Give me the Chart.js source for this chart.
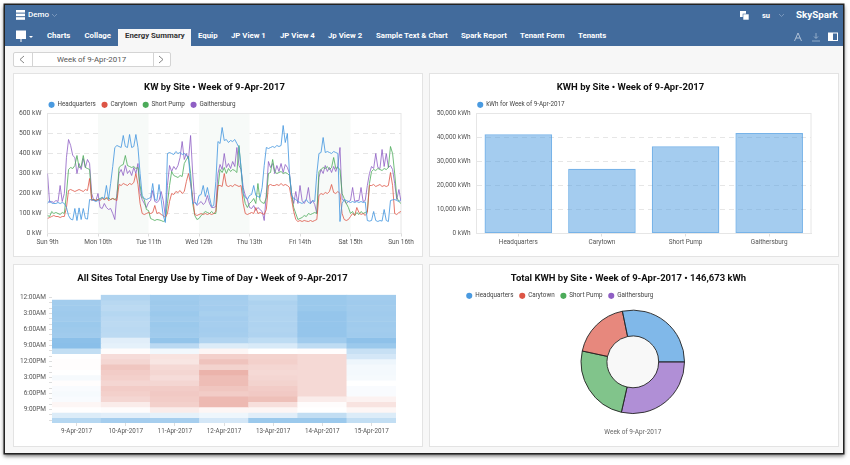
<!DOCTYPE html>
<html><head><meta charset="utf-8">
<script src="https://cdn.jsdelivr.net/npm/chart.js@4/dist/chart.umd.min.js"></script>
<style>
html,body{margin:0;padding:0;background:#fff;width:850px;height:465px;overflow:hidden;font-family:Roboto,"Liberation Sans",sans-serif}
#win{position:absolute;left:5px;top:5px;width:838px;height:448px;background:#f7f7f7;box-shadow:0 0 0 1.5px #222,0 2px 4px 1px rgba(0,0,0,.6)}
#bar{position:absolute;left:5px;top:5px;width:838px;height:41px;background:#426b9c}
.t{position:absolute;color:#fff;font:bold 7.8px Roboto,"Liberation Sans",sans-serif;white-space:nowrap;line-height:12px;top:30px}
#tab{position:absolute;left:118px;top:29px;width:73px;height:17px;background:#f7f7f7}
.panel{position:absolute;background:#fff;box-sizing:border-box;border:1px solid #e3e3e3}
canvas{position:absolute;left:0;top:0}
#sel{position:absolute;left:12.5px;top:52px;width:158px;height:15px;box-sizing:border-box;border:1px solid #d4d4d4;border-radius:2px;background:#fff;color:#555;font-size:7.9px;line-height:13px;text-align:center}
#sel i{position:absolute;top:0;width:1px;height:13px;background:#d4d4d4}
svg{position:absolute}
</style></head><body>
<div id="win"></div><div id="bar"></div><div id="tab"></div>
<svg style="left:0;top:0" width="850" height="60" fill="none" stroke="#fff">
<g fill="#fff" stroke="none"><rect x="16" y="10" width="9" height="2.6"/><rect x="16" y="13.6" width="9" height="2.6"/><rect x="16" y="17.2" width="9" height="2.6"/>
<rect x="16" y="30.5" width="10" height="8.5"/><rect x="20.5" y="39" width="1" height="3"/><path d="M29 36h4l-2 2z"/>
<rect x="740" y="11" width="6" height="6"/><rect x="743" y="14" width="6" height="6" stroke="#426b9c" stroke-width=".6"/>
<rect x="828" y="32.5" width="10" height="8.5"/></g>
<path d="M52 14l2.5 2.5 2.5-2.5M779 14l2.5 2.5 2.5-2.5" stroke="#8fa9c8" stroke-width=".7"/>
<path d="M794.5 41l3.5-8 3.500 8M796 38h4" stroke="#c6d3e3" stroke-width=".8"/>
<path d="M816 33v5M814 36.500l2 2 2-2M812 41h8" stroke="#a7bcd4" stroke-width=".8"/>
<rect x="833" y="33.500" width="4" height="6.500" fill="#426b9c" stroke="none"/>
</svg>
<div class="t" style="left:28px;top:9px;font-size:8px;font-weight:500">Demo</div>
<div class="t" style="left:762px;top:9.500px;font-size:7.500px">su</div>
<div class="t" style="left:796px;top:9px;font-size:9.800px">SkySpark</div>
<div class="t" style="left:47px">Charts</div><div class="t" style="left:84.500px">Collage</div>
<div class="t" style="left:125px;color:#333">Energy Summary</div><div class="t" style="left:198px">Equip</div>
<div class="t" style="left:231px">JP View 1</div><div class="t" style="left:280px">JP View 4</div>
<div class="t" style="left:328px">Jp View 2</div><div class="t" style="left:376px">Sample Text &amp; Chart</div>
<div class="t" style="left:461px">Spark Report</div><div class="t" style="left:520px">Tenant Form</div><div class="t" style="left:578px">Tenants</div>
<div id="sel">Week of 9-Apr-2017<i style="left:18px"></i><i style="left:139px"></i></div>
<svg style="left:0;top:0" width="200" height="70" fill="none" stroke="#777" stroke-width=".9"><path d="M24 56l-4 3.500 4 3.500M159 56l4 3.500-4 3.500"/></svg>
<div class="panel" style="left:12.500px;top:72.500px;width:410px;height:184px"><canvas id="c1" width="408" height="182"></canvas></div>
<div class="panel" style="left:428.500px;top:72.500px;width:410px;height:184px"><canvas id="c2" width="408" height="182"></canvas></div>
<div class="panel" style="left:12.500px;top:263.500px;width:410px;height:183px"><canvas id="c3" width="408" height="181"></canvas></div>
<div class="panel" style="left:428.500px;top:263.500px;width:410px;height:183px"><canvas id="c4" width="408" height="181"></canvas></div>
<script>
const weekLabel = "Week of 9-Apr-2017";
const sites = ["Headquarters","Carytown","Short Pump","Gaithersburg"];
const siteColors = ["#4a9ae0","#dd5546","#4cab5a","#8f5fc4"];
const lineColors = ["rgba(74,154,224,.85)","rgba(221,85,70,.8)","rgba(76,171,90,.8)","rgba(143,95,196,.8)"];
const dayLabels = ["Sun 9th","Mon 10th","Tue 11th","Wed 12th","Thu 13th","Fri 14th","Sat 15th","Sun 16th"];
const shadedDays = [1,3,5];
const kwHeadquarters = [150,165,152,150,150,155,150,155,150,130,90,72,68,125,65,128,70,125,75,72,170,168,165,160,
165,170,180,175,240,170,250,335,430,440,435,430,490,435,430,495,430,435,495,430,300,190,175,170,
175,180,250,170,165,245,170,90,55,400,405,400,395,410,400,405,395,400,390,380,260,150,155,145,
190,195,240,185,230,180,135,140,260,460,450,530,465,470,455,465,460,470,450,430,330,200,180,170,
190,195,240,190,185,180,230,340,430,425,430,435,430,440,435,440,540,455,500,300,190,175,170,160,
155,150,160,170,155,150,165,160,300,400,405,480,405,410,405,400,410,405,400,60,150,170,165,160,
155,160,155,160,155,160,155,158,65,62,65,110,65,60,65,62,120,65,60,165,168,170,165,160,170];
const kwCarytown = [75,80,85,90,85,85,80,85,85,130,215,220,215,210,215,220,215,210,220,215,275,165,170,165,
170,165,175,170,180,165,170,175,170,165,245,240,250,245,240,250,245,255,300,245,150,100,95,100,
105,100,105,140,100,105,95,90,80,100,160,200,195,210,205,215,200,210,260,300,250,180,95,90,
95,100,95,100,95,100,95,100,110,240,240,235,300,240,235,240,235,245,240,235,240,150,100,95,
100,105,100,130,100,105,100,95,120,240,245,240,240,245,240,250,240,245,240,230,170,110,70,60,
65,60,65,62,60,65,60,65,70,190,200,195,205,200,210,245,205,200,210,200,100,70,65,70,
85,100,90,130,105,95,100,90,105,240,240,245,235,240,245,235,240,235,240,305,240,100,95,105,110];
const kwShortPump = [90,85,110,100,105,100,95,105,100,200,320,330,325,340,390,330,335,390,330,325,320,170,170,165,
170,175,180,170,175,180,170,175,170,180,330,340,345,390,340,335,330,335,325,330,240,180,170,120,
115,75,70,65,70,68,65,60,65,150,240,310,290,285,280,290,285,350,370,385,300,150,90,70,
75,90,100,110,105,100,110,100,100,230,320,305,330,300,325,310,320,315,305,440,320,200,150,130,
150,160,175,150,250,165,155,150,180,300,305,370,310,300,305,310,300,305,300,290,200,130,100,70,
75,80,90,85,100,95,100,105,100,310,320,330,325,335,320,330,380,325,330,320,200,175,150,130,
100,110,90,105,95,110,100,105,110,250,310,320,315,325,320,315,325,320,330,435,400,300,180,160,150];
const kwGaithersburg = [300,155,160,155,165,160,240,160,200,380,470,440,390,380,300,350,320,375,330,370,350,200,165,165,
200,130,125,150,130,120,125,100,70,200,300,320,290,340,300,315,290,330,300,350,200,170,150,130,
155,165,215,160,155,165,210,165,85,240,340,310,335,320,340,380,460,370,400,370,490,300,160,140,
150,160,145,155,190,150,130,130,135,300,345,320,400,330,350,325,360,335,430,340,320,230,190,170,
130,125,140,115,130,120,110,65,200,360,330,350,300,340,310,350,305,345,330,300,200,150,210,150,
240,165,150,170,230,150,165,145,100,280,320,300,340,310,330,305,335,310,340,430,170,165,150,160,
165,230,160,165,165,230,160,165,240,300,335,325,400,330,325,420,335,400,330,340,320,250,170,220,160];
const kwSeries = [kwHeadquarters,kwCarytown,kwShortPump,kwGaithersburg];
const kwhBySite = [41400,27000,36400,41873];
const heatDays = ["9-Apr-2017","10-Apr-2017","11-Apr-2017","12-Apr-2017","13-Apr-2017","14-Apr-2017","15-Apr-2017"];
const hourLabels = ["12:00AM","1:00AM","2:00AM","3:00AM","4:00AM","5:00AM","6:00AM","7:00AM","8:00AM","9:00AM","10:00AM","11:00AM","12:00PM","1:00PM","2:00PM","3:00PM","4:00PM","5:00PM","6:00PM","7:00PM","8:00PM","9:00PM","10:00PM","11:00PM"];
const heatApr9 = [null,655,650,645,650,640,645,650,605,600,730,870,875,875,870,850,875,855,850,855,900,872,790,700];
const heatApr10 = [690,705,715,700,710,715,710,715,800,810,880,980,1000,1050,1030,1020,1000,1030,1020,1000,930,880,800,660];
const heatApr11 = [650,645,650,640,650,640,645,650,620,710,840,960,950,990,1000,980,1000,1030,1040,1030,1020,930,810,665];
const heatApr12 = [660,665,660,670,660,665,660,665,690,790,900,1020,1060,1010,1110,1080,1080,1050,1030,1090,1090,900,830,770];
const heatApr13 = [700,680,690,685,690,685,690,685,720,780,870,1010,1020,1000,990,1000,1010,1030,1040,1070,970,900,800,640];
const heatApr14 = [640,640,640,625,625,625,625,625,650,720,875,990,990,990,990,990,990,990,990,930,880,870,730,640];
const heatApr15 = [655,650,655,650,655,650,655,650,610,640,740,770,830,845,845,850,870,855,855,910,960,900,790,730];
const heatGrid = [heatApr9,heatApr10,heatApr11,heatApr12,heatApr13,heatApr14,heatApr15];
const heatMid = 870, heatRange = 300;
function heatColor(v){
  if(v===null) return "rgba(255,255,255,0)";
  const r=Math.min(1,Math.abs(v-heatMid)/heatRange), e=v<heatMid?[125,184,230]:[230,160,150];
  return "rgb("+e.map(c=>Math.round(255+(c-255)*r)).join(",")+")";
}
const fam = "Roboto, 'Liberation Sans', sans-serif";
const font = f=>({family:fam,size:f});
const titleOpt = (t,b)=>({display:true,text:t,color:"#111",font:{family:fam,size:9.5,weight:"bold"},padding:{top:8,bottom:b}});
const legendOpt = (gen,rev)=>({position:"top",align:"start",reverse:!!rev,labels:{usePointStyle:true,boxWidth:5.5,boxHeight:4.3,padding:6,color:"#444",font:font(6.3),generateLabels:gen}});
const lineGen = ch=>Chart.defaults.plugins.legend.labels.generateLabels(ch).map((it,i)=>({...it,fillStyle:siteColors[i],strokeStyle:siteColors[i],lineWidth:0}));
const barGen = ch=>Chart.defaults.plugins.legend.labels.generateLabels(ch).map(it=>({...it,fillStyle:siteColors[0],strokeStyle:siteColors[0],lineWidth:0}));
const donutGen = ch=>Chart.overrides.doughnut.plugins.legend.labels.generateLabels(ch).map(it=>({...it,fillStyle:siteColors[sites.indexOf(it.text)],strokeStyle:siteColors[sites.indexOf(it.text)],lineWidth:0}));
const framePlugin = {id:"frame",
  beforeLayout(ch,a,o){
    if(o.legendTrim && !ch.legend.__trim){ const f=ch.legend.fit; ch.legend.fit=function(){f.call(this); this.height-=o.legendTrim;}; ch.legend.__trim=true; }
  },
  afterLayout(ch,a,o){ if(o.legendX!==undefined){ch.legend.left=o.legendX;} if(o.titleLeft!==undefined){ch.titleBlock.left=o.titleLeft;} },
  beforeDatasetsDraw(ch,a,o){
    const {ctx,chartArea:c}=ch;
    if(o.bands){ ctx.save();ctx.fillStyle="#f7faf8";
      const x=ch.scales.x; o.bands.forEach(d=>{const l=x.getPixelForValue(d*24),r=x.getPixelForValue((d+1)*24);ctx.fillRect(l,c.top,r-l,c.bottom-c.top);});
      ctx.restore(); }
    if(o.box){ ctx.save();ctx.strokeStyle="#e6e6e6";ctx.lineWidth=1;ctx.strokeRect(c.left,c.top,c.right-c.left,c.bottom-c.top);ctx.restore(); }
    if(o.hole){ const m=ch.getDatasetMeta(0).data[0]; ctx.save();ctx.fillStyle="#f8f8f8";ctx.beginPath();ctx.arc(m.x,m.y,m.innerRadius,0,7);ctx.fill();ctx.restore(); }
  }};
Chart.register(framePlugin);
Chart.defaults.animation=false;
const gridY = {color:"#e6e6e6",drawTicks:false};
const borderY = {color:"#e4e4e4",dash:[5,4]};
// KW by site
new Chart(document.getElementById("c1"),{type:"line",
  data:{datasets:kwSeries.map((s,i)=>({label:sites[i],data:s.map((v,h)=>({x:h,y:v})),borderColor:lineColors[i],backgroundColor:siteColors[i],borderWidth:1,pointRadius:0,tension:0}))},
  options:{responsive:false,layout:{padding:{right:21}},
    plugins:{title:titleOpt("KW by Site • "+weekLabel,2.3),legend:legendOpt(lineGen),tooltip:{enabled:false},frame:{bands:shadedDays,box:true,legendX:28.8,titleLeft:14,legendTrim:4.5}},
    scales:{x:{type:"linear",min:0,max:168,ticks:{stepSize:24,color:"#555",font:font(6.5),padding:2,maxRotation:0,callback:v=>dayLabels[v/24]},grid:{drawOnChartArea:false,tickLength:3,color:"#ddd"},border:{color:"#e4e4e4"},afterFit:s=>{s.height=22.5}},
      y:{min:0,max:600,ticks:{stepSize:100,color:"#555",font:font(6.8),padding:6,callback:v=>v+" kW"},grid:gridY,border:borderY,afterFit:s=>{s.width=33.5}}}}});
// KWH bars
new Chart(document.getElementById("c2"),{type:"bar",
  data:{labels:sites,datasets:[{label:"kWh for "+weekLabel,data:kwhBySite,backgroundColor:"rgba(74,154,224,.5)",borderColor:"rgba(74,154,224,.75)",borderWidth:1.3,borderSkipped:false,barPercentage:1,categoryPercentage:.808}]},
  options:{responsive:false,layout:{padding:{right:27}},
    plugins:{title:titleOpt("KWH by Site • "+weekLabel,2.3),legend:legendOpt(barGen),tooltip:{enabled:false},frame:{box:true,legendX:41.5,titleLeft:20,legendTrim:4.5}},
    scales:{x:{ticks:{color:"#555",font:font(6.4),padding:2},grid:{offset:false,drawOnChartArea:false,tickLength:3,color:"#ddd"},border:{color:"#e4e4e4"},afterFit:s=>{s.height=22.5}},
      y:{min:0,max:50000,ticks:{stepSize:10000,color:"#555",font:font(6.5),padding:6,callback:v=>v.toLocaleString("en-US")+" kWh"},grid:gridY,border:borderY,afterFit:s=>{s.width=46.5}}}}});
// Heat map
new Chart(document.getElementById("c3"),{type:"bar",
  data:{labels:heatDays,datasets:hourLabels.map((h,i)=>({label:h,data:heatDays.map(()=>1),backgroundColor:heatGrid.map(d=>heatColor(d[i])),borderWidth:0,barPercentage:1,categoryPercentage:1}))},
  options:{responsive:false,layout:{padding:{right:26}},
    plugins:{title:titleOpt("All Sites Total Energy Use by Time of Day • "+weekLabel,10.4),legend:{display:false},tooltip:{enabled:false},frame:{titleLeft:15}},
    scales:{x:{stacked:true,ticks:{color:"#555",font:font(6.3),padding:2,maxRotation:0},grid:{offset:false,drawOnChartArea:false,tickLength:3,color:"#ddd"},border:{display:false},afterFit:s=>{s.height=23}},
      y:{stacked:true,reverse:true,min:0,max:24,afterBuildTicks:s=>{s.ticks=hourLabels.map((h,i)=>({value:i+.5}))},
        ticks:{autoSkip:false,color:"#555",font:font(6.5),padding:3,callback:(v,i)=>i%3===0?hourLabels[i]:""},grid:{drawOnChartArea:false,tickLength:3,color:"#ddd"},border:{display:false},afterFit:s=>{s.width=38}}}}});
// Doughnut
new Chart(document.getElementById("c4"),{type:"doughnut",
  data:{labels:sites.slice().reverse(),datasets:[{data:kwhBySite.slice().reverse(),backgroundColor:["rgba(143,95,196,.7)","rgba(76,171,90,.7)","rgba(221,85,70,.7)","rgba(74,154,224,.7)"],borderColor:"#222",borderWidth:.9,radius:51.7}]},
  options:{responsive:false,rotation:90,cutout:"50%",layout:{padding:{right:2.4}},
    plugins:{title:titleOpt("Total KWH by Site • "+weekLabel+" • 146,673 kWh",2.3),legend:legendOpt(donutGen,true),tooltip:{enabled:false},frame:{hole:true,legendX:30.5,titleLeft:-8.6,legendTrim:4.5},
      subtitle:{display:true,position:"bottom",text:weekLabel,color:"#666",font:font(6.5),padding:{top:9,bottom:10}}}}});
</script>
</body></html>
